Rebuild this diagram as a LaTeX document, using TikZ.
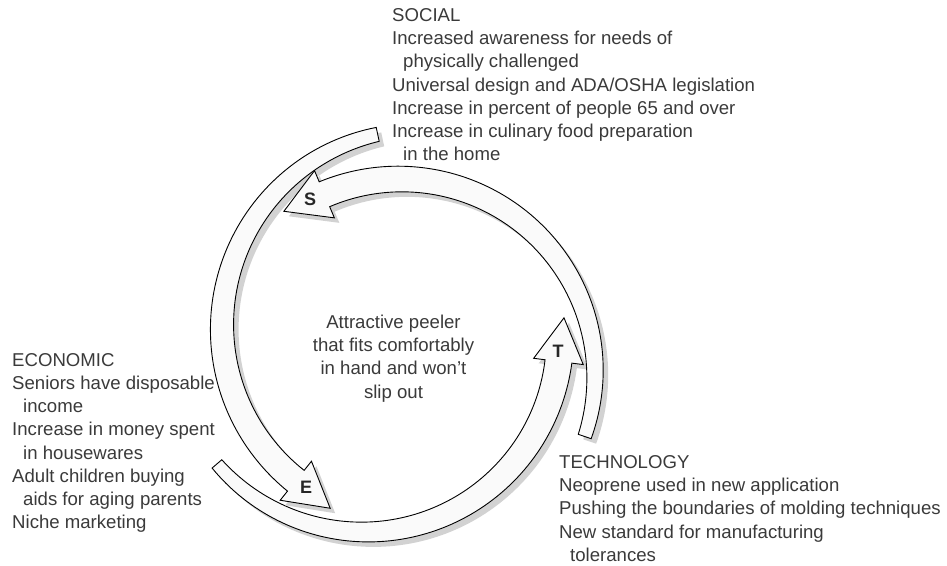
\documentclass[tikz,border=0pt]{standalone}
\usepackage{fontspec}
\setmainfont{Liberation Sans}
\usetikzlibrary{calc}
\definecolor{inktext}{HTML}{3A3A3A}
\definecolor{bandfill}{HTML}{FAFAFA}
\definecolor{bandshadow}{HTML}{D2D2D2}

\tikzset{
  band/.style={draw=black, line width=0.9pt, fill=bandfill, line join=miter},
  bandshade/.style={fill=bandshadow},
  blocktext/.style={font=\fontsize{18.6}{23.2}\selectfont, text=inktext,
    inner sep=0pt, align=left, anchor=north west},
  headlabel/.style={font=\bfseries\fontsize{18}{18}\selectfont, text=black!85, inner sep=0pt},
}

% A curved arrow drawn as a band around a centre.
% #1,#2 centre; #3 radius of the mid line; #4 tail angle; #5 angle where the head starts;
% #6 half width at the tail; #7 half width next to the head; #8 half width of the head;
% #9 length of the head along the tangent.
\newcommand{\cyclearrow}[9]{%
  \begin{scope}[declare function={
      ww(\t)=#6+(#7-#6)*(1.5*((#4-\t)/(#4-#5))-0.5*((#4-\t)/(#4-#5))^2);}]
    \pgfmathsetmacro\hc{cos(#5)}%
    \pgfmathsetmacro\hs{sin(#5)}%
    \pgfmathsetmacro\hox{#1+(#3+#8)*\hc}%
    \pgfmathsetmacro\hoy{#2+(#3+#8)*\hs}%
    \pgfmathsetmacro\hix{#1+(#3-#8)*\hc}%
    \pgfmathsetmacro\hiy{#2+(#3-#8)*\hs}%
    \pgfmathsetmacro\tipx{#1+#3*\hc+#9*\hs}%
    \pgfmathsetmacro\tipy{#2+#3*\hs-#9*\hc}%
    \def\arrowoutline{plot[domain=#4:#5,samples=90,variable=\t]
        ({#1+(#3+ww(\t))*cos(\t)},{#2+(#3+ww(\t))*sin(\t)})
      -- (\hox,\hoy) -- (\tipx,\tipy) -- (\hix,\hiy)
      -- plot[domain=#5:#4,samples=90,variable=\t]
        ({#1+(#3-ww(\t))*cos(\t)},{#2+(#3-ww(\t))*sin(\t)}) -- cycle}%
    \fill[bandshade, shift={(5,5)}] \arrowoutline;
    \draw[band] \arrowoutline;
  \end{scope}}

\begin{document}
\begin{tikzpicture}[x=1pt, y=-1pt]
  \useasboundingbox (0,0) rectangle (947,565);

  % the three arrows of the cycle
  \cyclearrow{365}{337}{195}{139.4}{7.2}{6.4}{13.5}{25}{44}    % technology
  \cyclearrow{419}{327}{197}{-102.1}{-231.3}{7.1}{13.3}{25}{44} % economic
  \cyclearrow{400}{374}{195}{18.7}{-112.8}{6.8}{13.5}{25.6}{44} % social

  % letters in the arrow heads
  \node[headlabel] (labS) at (310,199) {S};
  \node[headlabel] (labT) at (558,351) {T};
  \node[headlabel] (labE) at (306,487) {E};

  % centre statement
  \node[blocktext, align=center, anchor=north] (core) at (393.5,314.3)
    {\rule{0pt}{14pt}Attractive peeler\\that fits comfortably\\in hand and won't\\slip out};

  % factor lists
  \node[blocktext] (social) at (392,7.3)
    {\rule{0pt}{14pt}SOCIAL\\
     Increased awareness for needs of\\
     \hspace*{11pt}physically challenged\\
     Universal design and ADA/OSHA legislation\\
     Increase in percent of people 65 and over\\
     Increase in culinary food preparation\\
     \hspace*{11pt}in the home};

  \node[blocktext] (economic) at (12,352)
    {\rule{0pt}{14pt}ECONOMIC\\
     Seniors have disposable\\
     \hspace*{11pt}income\\
     Increase in money spent\\
     \hspace*{11pt}in housewares\\
     Adult children buying\\
     \hspace*{11pt}aids for aging parents\\
     Niche marketing};

  \node[blocktext] (technology) at (559,454.3)
    {\rule{0pt}{14pt}TECHNOLOGY\\
     Neoprene used in new application\\
     Pushing the boundaries of molding techniques\\
     New standard for manufacturing\\
     \hspace*{11pt}tolerances};
\end{tikzpicture}
\end{document}
